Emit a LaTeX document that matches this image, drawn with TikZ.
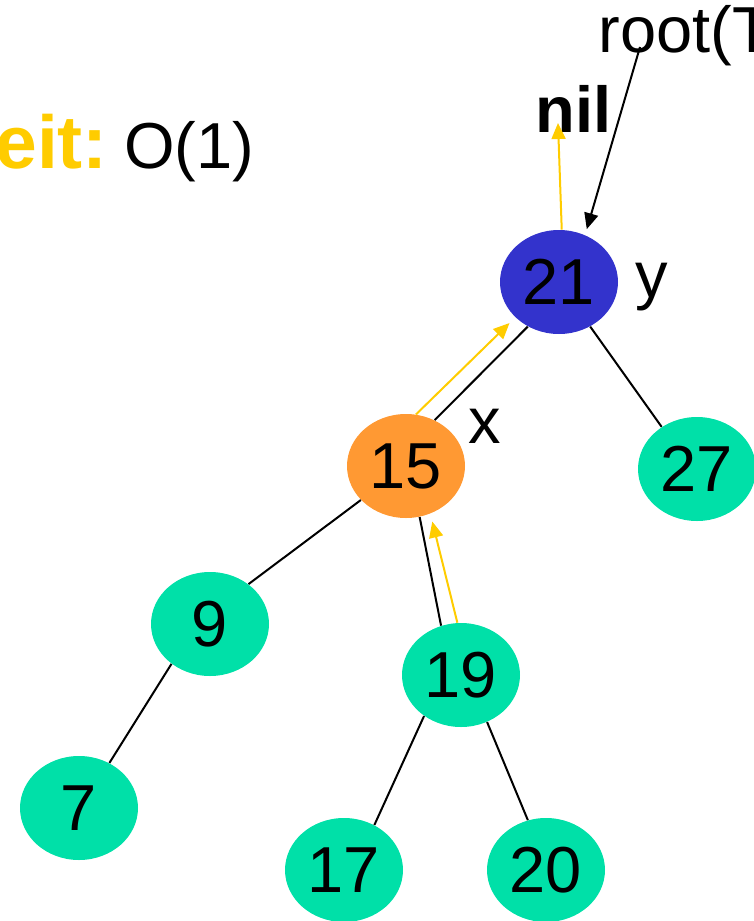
\documentclass[tikz,border=0pt]{standalone}
\usepackage{fontspec}
\setmainfont{Liberation Sans}
\usepackage{xcolor}
\usetikzlibrary{shapes.geometric,arrows.meta}
\definecolor{rootblue}{HTML}{3333CC}
\definecolor{curorange}{HTML}{FF9933}
\definecolor{leafgreen}{HTML}{00E0A8}
\definecolor{walkyellow}{HTML}{FFCC00}
\newcommand{\slidesize}{\fontsize{32.5}{39}\selectfont}
\newcommand{\headsize}{\fontsize{37.5}{45}\selectfont}

\begin{document}
\begin{tikzpicture}[
        x=0.5pt,
        y=-0.5pt,
        every node/.style={font=\slidesize},
        key/.style={
            ellipse,
            minimum width=59pt,
            minimum height=52pt,
            inner sep=0pt,
            fill=leafgreen
        },
        label/.style={
            anchor=base west,
            inner sep=0pt
        },
        edge/.style={
            draw=black,
            line width=1pt
        },
        walk/.style={
            draw=walkyellow,
            line width=1pt,
            -{Triangle[length=8pt,width=7pt]}
        },
        pointer/.style={
            draw=black,
            line width=1pt,
            -{Triangle[length=8pt,width=7pt]}
        }
    ]
        \useasboundingbox (0,0) rectangle (754,921);

        % Header text
        \node[label, text=walkyellow, font=\headsize\bfseries]
            (cost) at (-5,168) {eit:};
        \node[label] (order) at (124,168) {O(1)};
        \node[label] (root) at (598,53) {root(T};
        \node[label, font=\slidesize\bfseries] (nil) at (535,132) {nil};

        % Tree keys
        \node[key, fill=rootblue]   (n21) at (559,282) {21};
        \node[key, fill=curorange]  (n15) at (406,466) {15};
        \node[key] (n27) at (697,469) {27};
        \node[key] (n9)  at (210,624) {9};
        \node[key] (n19) at (461,675) {19};
        \node[key] (n7)  at (79,808)  {7};
        \node[key] (n17) at (344,870) {17};
        \node[key] (n20) at (546,870) {20};

        \node[label] (ylab) at (635,297) {y};
        \node[label] (xlab) at (468,443) {x};

        % Tree edges
        \draw[edge] (n21.235) -- (n15.58);
        \draw[edge] (n21.305) -- (n27.130);
        \draw[edge] (n15.217) -- (n9.46);
        \draw[edge] (n15.285) -- (n19.112);
        \draw[edge] (n9.226)  -- (n7.56);
        \draw[edge] (n19.228) -- (n17.56);
        \draw[edge] (n19.299) -- (n20.110);

        % Parent pointers walked upwards
        \coordinate (niltip) at (558,123);
        \draw[walk, shorten >=4pt] (n19.94) -- (n15.297);
        \draw[walk, shorten >=4pt] (n15.79) -- (n21.219);
        \draw[walk] (n21.87) -- (niltip);

        % Root pointer
        \coordinate (rootfoot) at (640,47);
        \draw[pointer, shorten >=3pt] (rootfoot) -- (n21.61);
    \end{tikzpicture}
\end{document}
